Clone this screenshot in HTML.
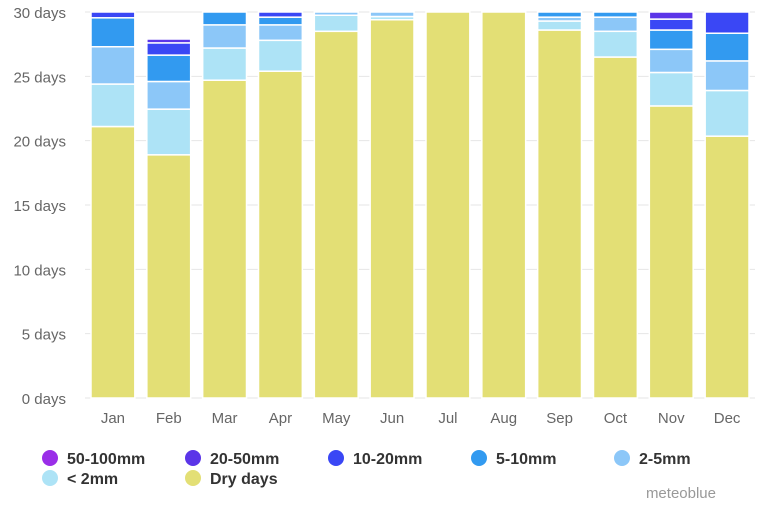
<!DOCTYPE html>
<html><head><meta charset="utf-8"><style>
body{margin:0;background:#fff;font-family:"Liberation Sans",sans-serif;}
svg text{font-family:"Liberation Sans",sans-serif;}
</style></head><body>
<svg id="chart" width="768" height="512" xmlns="http://www.w3.org/2000/svg">
<g id="grid"></g><g id="bars"></g><g id="axes"></g><g id="legend"></g>
<text x="716" y="498" text-anchor="end" font-size="15" fill="#999">meteoblue</text>
</svg>
<script>
const categories=["Jan","Feb","Mar","Apr","May","Jun","Jul","Aug","Sep","Oct","Nov","Dec"];
const seriesNames=["Dry days","< 2mm","2-5mm","5-10mm","10-20mm","20-50mm","50-100mm"];
const seriesColors=["#e3df75","#ade3f6","#8cc7f8","#329af0","#3a47f5","#5b35e8","#9a2ee8"];
const dryDays=[21.1,18.9,24.7,25.4,28.5,29.4,30,30,28.6,26.5,22.7,20.35];
const under2=[3.3,3.55,2.5,2.4,1.25,0.25,0,0,0.7,2.0,2.6,3.55];
const mm2to5=[2.9,2.15,1.8,1.2,0.25,0.35,0,0,0.3,1.1,1.8,2.3];
const mm5to10=[2.25,2.05,1.0,0.6,0,0,0,0,0.4,0.4,1.5,2.15];
const mm10to20=[0.45,0.95,0,0.4,0,0,0,0,0,0,0.85,1.65];
const mm20to50=[0,0.3,0,0,0,0,0,0,0,0,0.55,0];
const mm50to100=[0,0,0,0,0,0,0,0,0,0,0,0];
const yTicks=[0,5,10,15,20,25,30];
const series=[dryDays,under2,mm2to5,mm5to10,mm10to20,mm20to50,mm50to100];
const NS="http://www.w3.org/2000/svg";
const L=85,R=755,T=12,B=398,YMAX=30;
const y=v=>B-(v/YMAX)*(B-T);
const bw=(R-L)/categories.length;
const x=i=>L+i*bw;
function mk(tag,attrs,parent){const e=document.createElementNS(NS,tag);for(const k in attrs)e.setAttribute(k,attrs[k]);document.getElementById(parent).appendChild(e);return e;}
yTicks.forEach(t=>{
  const l=mk("line",{x1:L,x2:R,y1:y(t),y2:y(t),stroke:"#e6e6e6","stroke-width":1},"grid");
  
  
  const tx=mk("text",{x:66,y:y(t)+6,"text-anchor":"end","font-size":15,fill:"#666"},"axes");
  tx.textContent=t+" days";
  
  
});
categories.forEach((c,i)=>{
  let acc=0;
  series.forEach((s,j)=>{
    const v=s[i]; if(v<=0)return;
    const r=mk("rect",{x:x(i)+6,width:bw-12,y:y(acc+v),height:y(acc)-y(acc+v),fill:seriesColors[j],stroke:"#fff","stroke-width":1.5},"bars");
    
    
    acc+=v;
  });
  const tx=mk("text",{x:x(i)+bw/2,y:423,"text-anchor":"middle","font-size":15,fill:"#666"},"axes");
  tx.textContent=c;
  
  
});
const legendOrder=[6,5,4,3,2,1,0];
const legendLabels=["50-100mm","20-50mm","10-20mm","5-10mm","2-5mm","< 2mm","Dry days"];
legendOrder.forEach((si,k)=>{
  const col=k%5,row=Math.floor(k/5);
  const lx=50+col*143,ly=458+row*20;
  const c=mk("circle",{cx:lx,cy:ly,r:8,fill:seriesColors[si]},"legend");
  
  
  const t=mk("text",{x:lx+17,y:ly+6,"font-size":16,"font-weight":"bold",fill:"#333"},"legend");
  t.textContent=legendLabels[k];
  
  
});
</script>
</body></html>
